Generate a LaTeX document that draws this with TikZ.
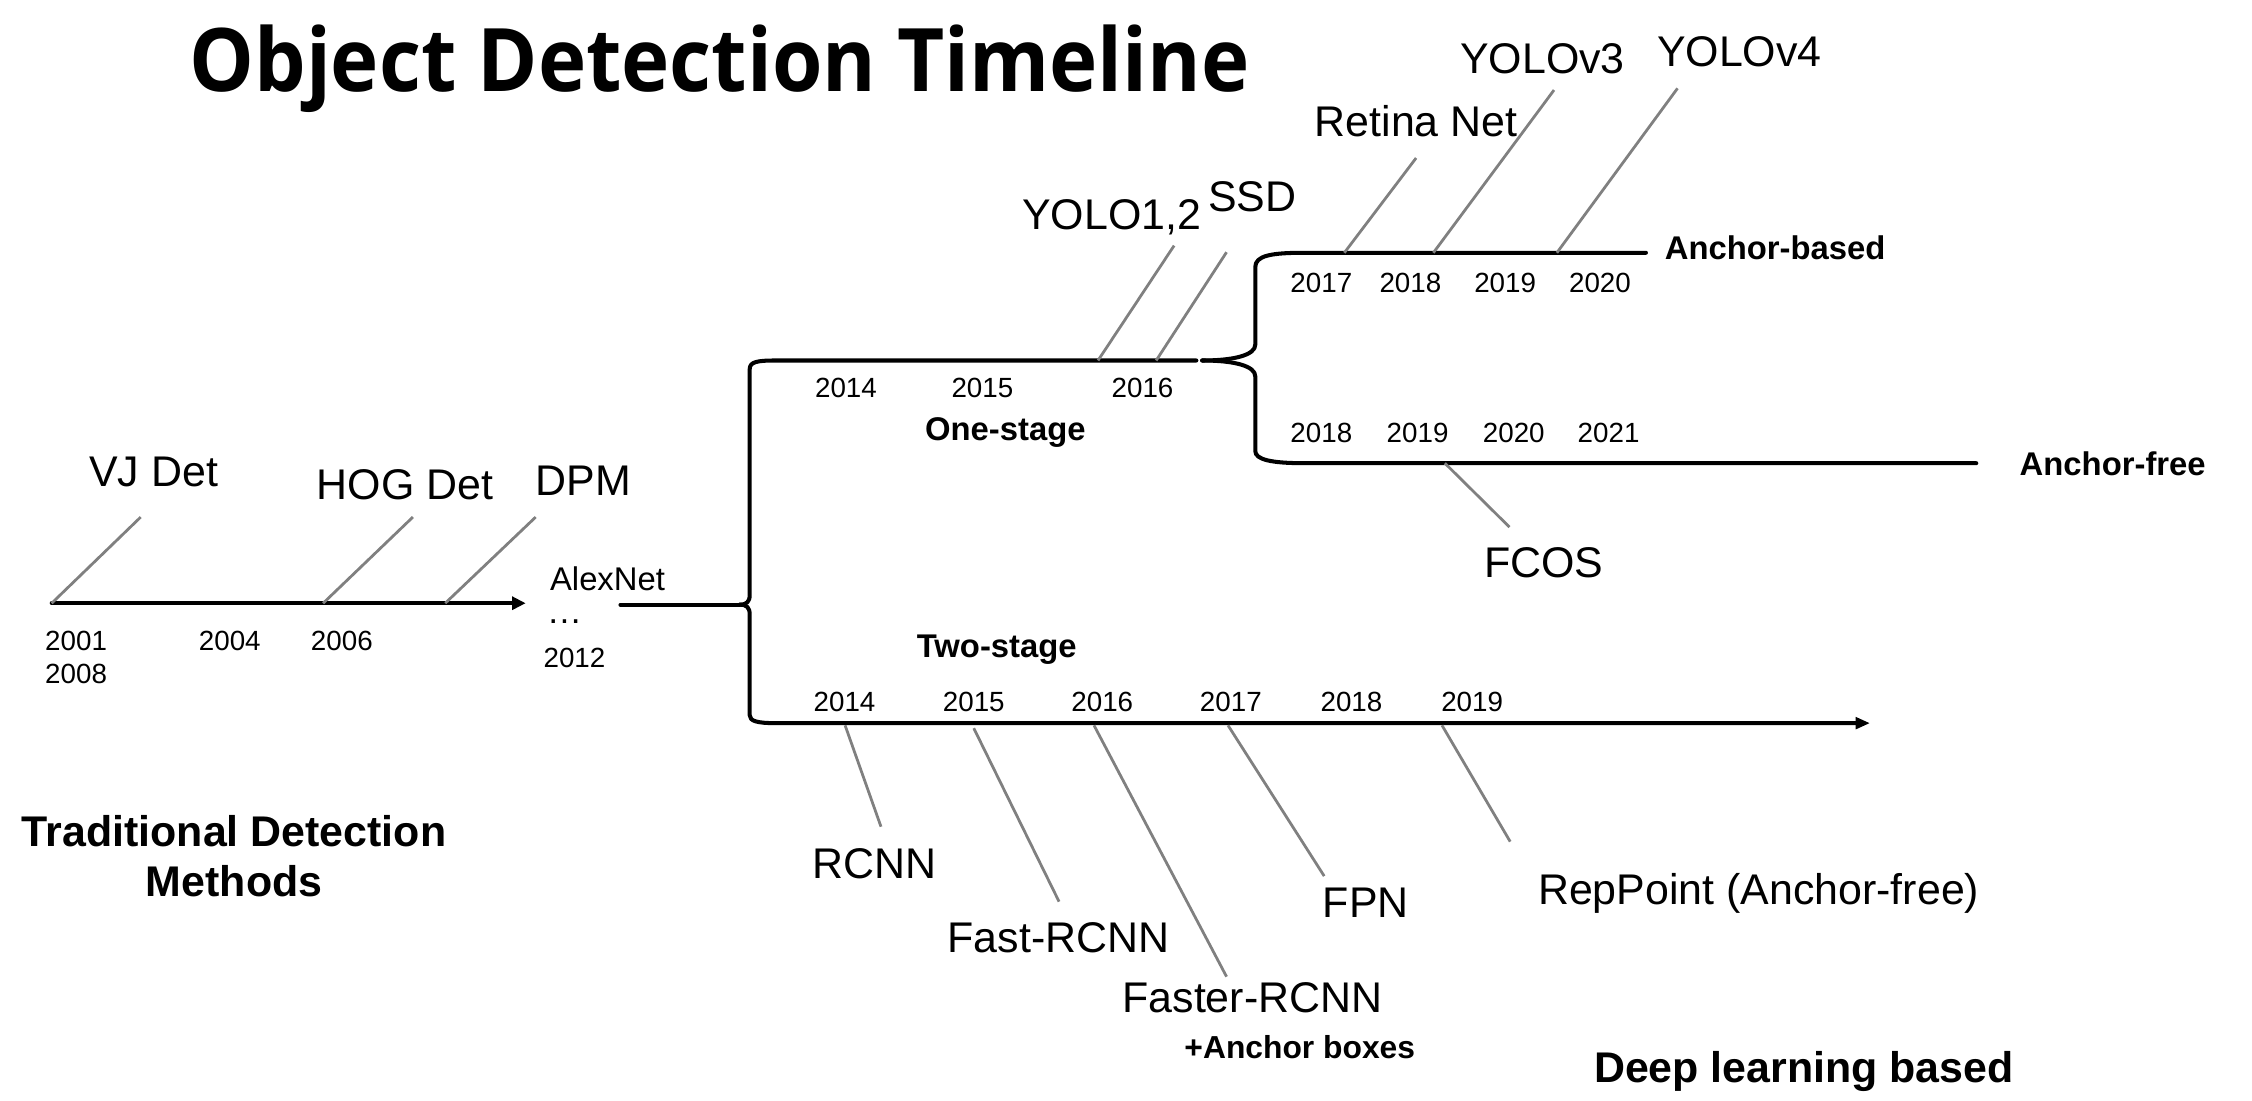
\documentclass[tikz,border=0pt]{standalone}
\usepackage{graphicx}
\usepackage{fontspec}
\setmainfont{Liberation Sans}
\newfontfamily\titlefont{Open Sans}
\usetikzlibrary{arrows.meta}
\definecolor{leadgray}{RGB}{128,128,128}

\tikzset{
  big/.style={font=\fontsize{17}{20}\selectfont, anchor=base, inner sep=0pt},
  mid/.style={font=\fontsize{13}{15}\selectfont, anchor=base, inner sep=0pt},
  year/.style={font=\fontsize{11}{13}\selectfont, anchor=base, inner sep=0pt},
  stage/.style={font=\bfseries\fontsize{13}{15}\selectfont, anchor=base, inner sep=0pt},
  heading/.style={font=\bfseries\fontsize{17}{20}\selectfont, anchor=base, inner sep=0pt},
  axis/.style={line width=1.6pt, line cap=round, line join=round},
  leader/.style={leadgray, line width=1.1pt},
}

\begin{document}
\begin{tikzpicture}[x=0.2mm, y=-0.2mm]
            \useasboundingbox (0,0) rectangle (1568,766);

            % Title
            \node[anchor=base, inner sep=0pt] (title) at (501,63.8)
              {\resizebox{147.6mm}{9.28mm}{\titlefont\bfseries Object Detection Timeline}};

            % Traditional timeline
            \coordinate (tStart) at (36,420);
            \coordinate (tEnd) at (366,420);
            \draw[axis, -{Triangle[length=1.9mm, width=1.8mm]}] (tStart) -- (tEnd);
            \node[big] (vj) at (107,339) {VJ Det};
            \node[big] (hog) at (282,348) {HOG Det};
            \node[big] (dpm) at (406,345) {DPM};
            \coordinate (vjLow) at (tStart);
            \coordinate (vjTop) at (98,360);
            \coordinate (hogLow) at (225,420);
            \coordinate (hogTop) at (287.5,360);
            \coordinate (dpmLow) at (310,420);
            \coordinate (dpmTop) at (373,360);
            \draw[leader] (vjLow) -- (vjTop);
            \draw[leader] (hogLow) -- (hogTop);
            \draw[leader] (dpmLow) -- (dpmTop);
            \node[year] (y2001) at (53,453) {2001};
            \node[year] (y2008) at (53,476) {2008};
            \node[year] (y2004) at (160,453) {2004};
            \node[year] (y2006) at (238,453) {2006};

            % AlexNet
            \node[mid] (alex) at (423,411) {AlexNet};
            \node[mid, font=\fontsize{14}{16}\selectfont, text height=1mm, text depth=0pt] (dots) at (393,434) {\ldots};
            \node[year] (y2012) at (400,465) {2012};

            % First brace: one-stage and two-stage
            \coordinate (feed) at (432,421);
            \coordinate (tipA) at (515,421);
            \coordinate (oneEnd) at (833,251);
            \coordinate (twoEnd) at (1302,503.5);
            \draw[axis] (feed) -- (tipA);
            \draw[axis] (oneEnd) -- (540,251) .. controls (527,251) and (522,252) .. (522,257)
              -- (522,414) .. controls (522,419) and (520,421) .. (tipA);
            \draw[axis, -{Triangle[length=2mm, width=1.6mm]}] (tipA) .. controls (520,421) and (522,423) .. (522,428)
              -- (522,498) .. controls (522,502) and (527,503.5) .. (540,503.5) -- (twoEnd);

            % One-stage
            \node[year] (o2014) at (589,277) {2014};
            \node[year] (o2015) at (684,277) {2015};
            \node[year] (o2016) at (795.5,277) {2016};
            \node[stage] (one) at (700,307) {One-stage};
            \node[big] (yolo) at (774,160) {YOLO1,2};
            \node[big] (ssd) at (872,147) {SSD};
            \coordinate (yoloLow) at (764.5,251);
            \coordinate (yoloTop) at (817.5,171);
            \coordinate (ssdLow) at (805,251);
            \coordinate (ssdTop) at (854,175.6);
            \draw[leader] (yoloLow) -- (yoloTop);
            \draw[leader] (ssdLow) -- (ssdTop);

            % Second brace: anchor-based and anchor-free
            \coordinate (tipB) at (837,251);
            \coordinate (basedEnd) at (1146,176);
            \coordinate (freeEnd) at (1376,322.5);
            \draw[axis] (basedEnd) -- (908,176) .. controls (885,176) and (874,178) .. (874,186)
              -- (874,240) .. controls (874,247) and (860,251) .. (tipB);
            \draw[axis] (tipB) .. controls (860,251) and (874,255) .. (874,262)
              -- (874,314) .. controls (874,320) and (885,322.5) .. (908,322.5) -- (freeEnd);

            % Anchor-based
            \node[stage] (based) at (1236,181) {Anchor-based};
            \node[year] (b2017) at (920,204) {2017};
            \node[year] (b2018) at (982,204) {2018};
            \node[year] (b2019) at (1048,204) {2019};
            \node[year] (b2020) at (1114,204) {2020};
            \node[big] (retina) at (986,95) {Retina Net};
            \node[big] (yolo3) at (1074,51) {YOLOv3};
            \node[big] (yolo4) at (1211,46) {YOLOv4};
            \coordinate (retinaLow) at (936,176);
            \coordinate (retinaTop) at (986,110);
            \coordinate (yolo3Low) at (998,176);
            \coordinate (yolo3Top) at (1082,62.7);
            \coordinate (yolo4Low) at (1084,176);
            \coordinate (yolo4Top) at (1168,61.5);
            \draw[leader] (retinaLow) -- (retinaTop);
            \draw[leader] (yolo3Low) -- (yolo3Top);
            \draw[leader] (yolo4Low) -- (yolo4Top);

            % Anchor-free
            \node[stage] (free) at (1471,331) {Anchor-free};
            \node[year] (f2018) at (920,308) {2018};
            \node[year] (f2019) at (987,308) {2019};
            \node[year] (f2020) at (1054,308) {2020};
            \node[year] (f2021) at (1120,308) {2021};
            \node[big] (fcos) at (1075,402) {FCOS};
            \coordinate (fcosLow) at (1006,322.5);
            \coordinate (fcosTop) at (1051,367);
            \draw[leader] (fcosLow) -- (fcosTop);

            % Two-stage
            \node[stage] (two) at (694,458) {Two-stage};
            \node[year] (s2014) at (588,495.6) {2014};
            \node[year] (s2015) at (678,495.6) {2015};
            \node[year] (s2016) at (767.5,495.6) {2016};
            \node[year] (s2017) at (857,495.6) {2017};
            \node[year] (s2018) at (941,495.6) {2018};
            \node[year] (s2019) at (1025,495.6) {2019};
            \node[big] (rcnn) at (609,611.5) {RCNN};
            \node[big] (fast) at (737,663.3) {Fast-RCNN};
            \node[big] (faster) at (872,705) {Faster-RCNN};
            \node[stage, font=\bfseries\fontsize{12.6}{14}\selectfont] (anchors) at (905,737) {+Anchor boxes};
            \node[big] (fpn) at (951,638.5) {FPN};
            \node[big] (rep) at (1224.5,630) {RepPoint (Anchor-free)};
            \coordinate (rcnnLow) at (588.4,505);
            \coordinate (rcnnTop) at (613.4,575.6);
            \coordinate (fastLow) at (678,507);
            \coordinate (fastTop) at (737.4,627.8);
            \coordinate (fasterLow) at (761.7,505);
            \coordinate (fasterTop) at (854,680);
            \coordinate (fpnLow) at (855,505);
            \coordinate (fpnTop) at (922,610);
            \coordinate (repLow) at (1004,505);
            \coordinate (repTop) at (1051.5,586);
            \draw[leader] (rcnnLow) -- (rcnnTop);
            \draw[leader] (fastLow) -- (fastTop);
            \draw[leader] (fasterLow) -- (fasterTop);
            \draw[leader] (fpnLow) -- (fpnTop);
            \draw[leader] (repLow) -- (repTop);

            % Headings
            \node[heading] (trad) at (163,589.6) {Traditional Detection};
            \node[heading] (methods) at (163,624.4) {Methods};
            \node[heading] (deep) at (1256,754) {Deep learning based};
        \end{tikzpicture}
\end{document}
